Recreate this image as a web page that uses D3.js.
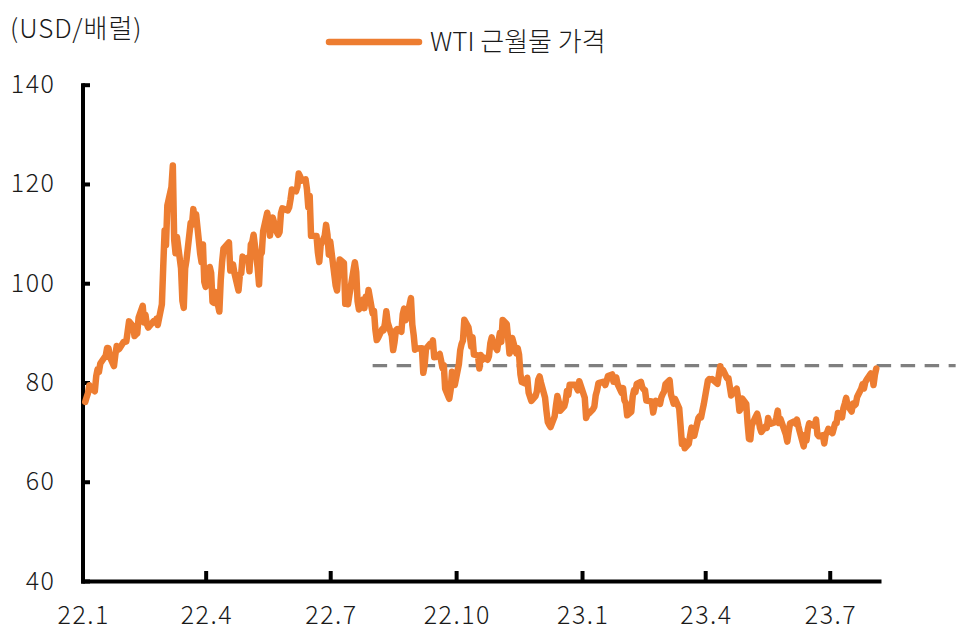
<!DOCTYPE html>
<html><head><meta charset="utf-8">
<script src="https://cdn.jsdelivr.net/npm/d3@7/dist/d3.min.js"></script>
<style>
body{margin:0;background:#fff;}
text{font-family:"Noto Sans CJK KR","Noto Sans",sans-serif;}
</style></head>
<body><svg id="c" width="968" height="640"></svg>
<script>
const seriesName = "WTI 근월물 가격";
const unitLabel = "(USD/배럴)";
const dates = [
"22-01-03","22-01-04","22-01-05","22-01-06","22-01-07","22-01-10","22-01-11","22-01-12","22-01-13","22-01-14","22-01-18","22-01-19","22-01-20","22-01-21","22-01-24","22-01-25","22-01-26","22-01-27","22-01-28","22-01-31",
"22-02-01","22-02-02","22-02-03","22-02-04","22-02-07","22-02-08","22-02-09","22-02-10","22-02-11","22-02-14","22-02-15","22-02-16","22-02-17","22-02-18","22-02-22","22-02-23","22-02-24","22-02-25","22-02-28",
"22-03-01","22-03-02","22-03-03","22-03-04","22-03-07","22-03-08","22-03-09","22-03-10","22-03-11","22-03-14","22-03-15","22-03-16","22-03-17","22-03-18","22-03-21","22-03-22","22-03-23","22-03-24","22-03-25","22-03-28","22-03-29","22-03-30","22-03-31",
"22-04-01","22-04-04","22-04-05","22-04-06","22-04-07","22-04-08","22-04-11","22-04-12","22-04-13","22-04-14","22-04-18","22-04-19","22-04-20","22-04-21","22-04-22","22-04-25","22-04-26","22-04-27","22-04-28","22-04-29",
"22-05-02","22-05-03","22-05-04","22-05-05","22-05-06","22-05-09","22-05-10","22-05-11","22-05-12","22-05-13","22-05-16","22-05-17","22-05-18","22-05-19","22-05-20","22-05-23","22-05-24","22-05-25","22-05-26","22-05-27","22-05-31",
"22-06-01","22-06-02","22-06-03","22-06-06","22-06-07","22-06-08","22-06-09","22-06-10","22-06-13","22-06-14","22-06-15","22-06-16","22-06-17","22-06-21","22-06-22","22-06-23","22-06-24","22-06-27","22-06-28","22-06-29","22-06-30",
"22-07-01","22-07-05","22-07-06","22-07-07","22-07-08","22-07-11","22-07-12","22-07-13","22-07-14","22-07-15","22-07-18","22-07-19","22-07-20","22-07-21","22-07-22","22-07-25","22-07-26","22-07-27","22-07-28","22-07-29",
"22-08-01","22-08-02","22-08-03","22-08-04","22-08-05","22-08-08","22-08-09","22-08-10","22-08-11","22-08-12","22-08-15","22-08-16","22-08-17","22-08-18","22-08-19","22-08-22","22-08-23","22-08-24","22-08-25","22-08-26","22-08-29","22-08-30","22-08-31",
"22-09-01","22-09-02","22-09-06","22-09-07","22-09-08","22-09-09","22-09-12","22-09-13","22-09-14","22-09-15","22-09-16","22-09-19","22-09-20","22-09-21","22-09-22","22-09-23","22-09-26","22-09-27","22-09-28","22-09-29","22-09-30",
"22-10-03","22-10-04","22-10-05","22-10-06","22-10-07","22-10-10","22-10-11","22-10-12","22-10-13","22-10-14","22-10-17","22-10-18","22-10-19","22-10-20","22-10-21","22-10-24","22-10-25","22-10-26","22-10-27","22-10-28","22-10-31",
"22-11-01","22-11-02","22-11-03","22-11-04","22-11-07","22-11-08","22-11-09","22-11-10","22-11-11","22-11-14","22-11-15","22-11-16","22-11-17","22-11-18","22-11-21","22-11-22","22-11-23","22-11-25","22-11-28","22-11-29","22-11-30",
"22-12-01","22-12-02","22-12-05","22-12-06","22-12-07","22-12-08","22-12-09","22-12-12","22-12-13","22-12-14","22-12-15","22-12-16","22-12-19","22-12-20","22-12-21","22-12-22","22-12-23","22-12-27","22-12-28","22-12-29","22-12-30",
"23-01-03","23-01-04","23-01-05","23-01-06","23-01-09","23-01-10","23-01-11","23-01-12","23-01-13","23-01-17","23-01-18","23-01-19","23-01-20","23-01-23","23-01-24","23-01-25","23-01-26","23-01-27","23-01-30","23-01-31",
"23-02-01","23-02-02","23-02-03","23-02-06","23-02-07","23-02-08","23-02-09","23-02-10","23-02-13","23-02-14","23-02-15","23-02-16","23-02-17","23-02-21","23-02-22","23-02-23","23-02-24","23-02-27","23-02-28",
"23-03-01","23-03-02","23-03-03","23-03-06","23-03-07","23-03-08","23-03-09","23-03-10","23-03-13","23-03-14","23-03-15","23-03-16","23-03-17","23-03-20","23-03-21","23-03-22","23-03-23","23-03-24","23-03-27","23-03-28","23-03-29","23-03-30","23-03-31",
"23-04-03","23-04-04","23-04-05","23-04-06","23-04-10","23-04-11","23-04-12","23-04-13","23-04-14","23-04-17","23-04-18","23-04-19","23-04-20","23-04-21","23-04-24","23-04-25","23-04-26","23-04-27","23-04-28",
"23-05-01","23-05-02","23-05-03","23-05-04","23-05-05","23-05-08","23-05-09","23-05-10","23-05-11","23-05-12","23-05-15","23-05-16","23-05-17","23-05-18","23-05-19","23-05-22","23-05-23","23-05-24","23-05-25","23-05-26","23-05-30","23-05-31",
"23-06-01","23-06-02","23-06-05","23-06-06","23-06-07","23-06-08","23-06-09","23-06-12","23-06-13","23-06-14","23-06-15","23-06-16","23-06-20","23-06-21","23-06-22","23-06-23","23-06-26","23-06-27","23-06-28","23-06-29","23-06-30",
"23-07-03","23-07-05","23-07-06","23-07-07","23-07-10","23-07-11","23-07-12","23-07-13","23-07-14","23-07-17","23-07-18","23-07-19","23-07-20","23-07-21","23-07-24","23-07-25","23-07-26","23-07-27","23-07-28","23-07-31",
"23-08-01","23-08-02","23-08-03","23-08-04"
];
const prices = [
76.08,76.99,77.85,79.46,78.90,78.23,81.22,82.64,82.12,83.82,85.43,86.96,86.90,85.14,83.31,85.60,87.35,86.61,86.82,88.15,
88.20,88.26,90.27,92.31,91.32,89.36,89.66,89.88,93.10,95.46,92.07,93.66,91.76,91.07,92.35,92.10,92.81,91.59,95.72,
103.41,110.60,107.67,115.68,119.40,123.70,108.70,106.02,109.33,103.01,96.44,95.04,102.98,104.70,112.12,111.76,114.93,112.34,113.90,105.96,104.24,107.82,100.28,
99.27,103.28,102.07,96.23,96.03,98.26,94.29,100.60,104.25,106.95,108.21,102.56,102.75,103.79,102.07,98.54,101.70,102.02,105.36,104.69,
105.17,102.41,107.81,108.26,109.77,103.09,99.76,105.71,106.13,110.49,114.20,112.40,109.59,112.21,113.23,110.29,109.77,110.33,114.09,115.07,114.67,
115.26,116.87,118.87,118.50,119.41,122.11,121.51,120.67,120.93,118.93,115.31,117.59,109.56,109.52,106.19,104.27,107.62,109.57,111.76,109.78,105.76,
108.43,99.50,98.53,102.73,104.79,104.09,95.84,96.30,95.78,97.59,102.60,104.22,102.26,96.35,94.70,96.70,94.98,97.26,96.42,98.62,
93.89,94.42,90.66,88.54,89.01,90.76,90.50,91.93,94.34,92.09,89.41,86.53,88.11,90.50,90.77,90.23,93.74,94.89,92.52,93.06,97.01,91.64,89.55,
86.61,86.87,86.88,81.94,83.54,86.79,87.78,87.31,88.48,85.10,85.11,85.73,84.45,82.94,83.49,78.74,76.71,78.50,82.15,81.23,79.49,
83.63,86.52,87.76,88.45,92.64,91.13,89.35,87.27,89.11,85.61,85.46,82.82,85.55,84.51,85.05,84.58,85.32,87.91,89.08,87.90,86.53,
88.37,90.00,88.17,92.61,91.79,88.91,85.83,86.47,88.96,85.87,86.92,85.59,81.64,80.08,79.73,80.95,77.94,76.28,77.24,78.20,80.55,
81.22,79.98,76.93,74.25,72.01,71.46,71.02,73.17,75.39,77.28,76.11,74.29,75.19,76.23,78.29,77.49,79.56,79.53,78.96,78.40,80.26,
76.93,72.84,73.67,73.77,74.63,75.12,77.41,78.39,79.86,80.18,79.48,80.33,81.31,81.62,80.13,80.15,81.01,79.68,77.90,78.87,
76.41,75.88,73.39,74.11,77.14,78.47,78.06,79.72,80.14,79.06,78.59,78.49,76.34,76.16,73.95,75.39,76.32,75.68,77.05,
77.69,78.16,79.68,80.46,77.58,76.66,75.72,76.68,74.80,71.33,67.61,68.35,66.74,67.64,69.33,70.90,69.96,69.26,72.81,73.20,72.97,74.37,75.67,
80.42,80.71,80.61,80.70,79.74,81.53,83.26,82.16,82.52,80.83,80.86,79.16,77.37,77.87,78.76,77.07,74.30,74.76,76.78,
75.66,71.66,68.60,68.56,71.34,73.16,73.71,72.56,70.87,70.04,71.11,70.86,72.83,71.86,71.69,71.99,72.91,74.34,71.83,72.67,69.46,68.09,
70.10,71.74,72.15,71.74,72.53,71.29,70.17,67.12,69.42,68.27,70.62,71.78,71.19,72.53,69.51,69.16,69.37,67.70,69.56,69.86,70.64,
69.79,71.79,71.80,73.86,72.99,74.83,75.75,76.89,75.42,74.15,75.75,75.35,75.63,77.07,78.74,79.63,78.78,80.09,80.58,81.80,
81.37,79.49,81.55,82.82
];
const xTickDates = ["22-01-01","22-04-01","22-07-01","22-10-01","23-01-01","23-04-01","23-07-01"];
const xTickLabels = ["22.1","22.4","22.7","22.10","23.1","23.4","23.7"];
const yTicks = [40,60,80,100,120,140];
const refLevel = 83.4;
const refStart = "22-08-01";
const refEnd = "23-10-01";
const xDomain = ["22-01-01","23-08-06"];

const parse = d3.utcParse("%y-%m-%d");
const data = dates.map((d,i)=>({date:parse(d), value:prices[i]}));
const svg = d3.select("#c");
const x = d3.scaleUtc().domain(xDomain.map(parse)).range([82.5, 879]);
const y = d3.scaleLinear().domain([40,140]).range([581, 84.7]);
const fontSize = 25;

// y axis
const ya = svg.append("g").attr("transform","translate(82.5,0)")
  .call(d3.axisLeft(y).tickValues(yTicks).tickSize(-7.5).tickSizeOuter(0).tickPadding(27));
// x axis
const xa = svg.append("g").attr("transform","translate(0,581)")
  .call(d3.axisBottom(x).tickValues(xTickDates.map(parse)).tickFormat((d,i)=>xTickLabels[i]).tickSize(-10).tickSizeOuter(0).tickPadding(25));
[ya,xa].forEach(g=>{
  g.select(".domain").attr("stroke","#000").attr("stroke-width",4).attr("stroke-linecap","square");
  g.selectAll(".tick line").attr("stroke","#000").attr("stroke-width",4);
  g.selectAll(".tick text").attr("fill","#1a1a1a").style("font-size",fontSize+"px")
    .style("font-weight",300).style("letter-spacing","1.5px");
});
xa.selectAll(".tick text").attr("dx","0.75px");
xa.selectAll(".tick").filter((d,i)=>i===0).select("line").remove();

// reference dashed line
svg.append("line")
  .attr("x1", x(parse(refStart))).attr("x2", x(parse(refEnd)))
  .attr("y1", y(refLevel)).attr("y2", y(refLevel))
  .attr("stroke","#7f7f7f").attr("stroke-width",3.3).attr("stroke-dasharray","14.5,9.5");

// series line
svg.append("path").datum(data)
  .attr("fill","none").attr("stroke","#ED7D31").attr("stroke-width",6.5)
  .attr("stroke-linejoin","round").attr("stroke-linecap","round")
  .attr("d", d3.line().x(d=>x(d.date)).y(d=>y(d.value)));

// unit label
svg.append("text").attr("x",10).attr("y",38).attr("fill","#1a1a1a")
  .style("font-size","26px").style("font-weight",300).style("letter-spacing","1px").text(unitLabel);

// legend
svg.append("line").attr("x1",329).attr("x2",419).attr("y1",42).attr("y2",42)
  .attr("stroke","#ED7D31").attr("stroke-width",6.5).attr("stroke-linecap","round");
svg.append("text").attr("x",430).attr("y",51).attr("fill","#1a1a1a")
  .style("font-size","26px").style("font-weight",300).text(seriesName);
</script></body></html>
